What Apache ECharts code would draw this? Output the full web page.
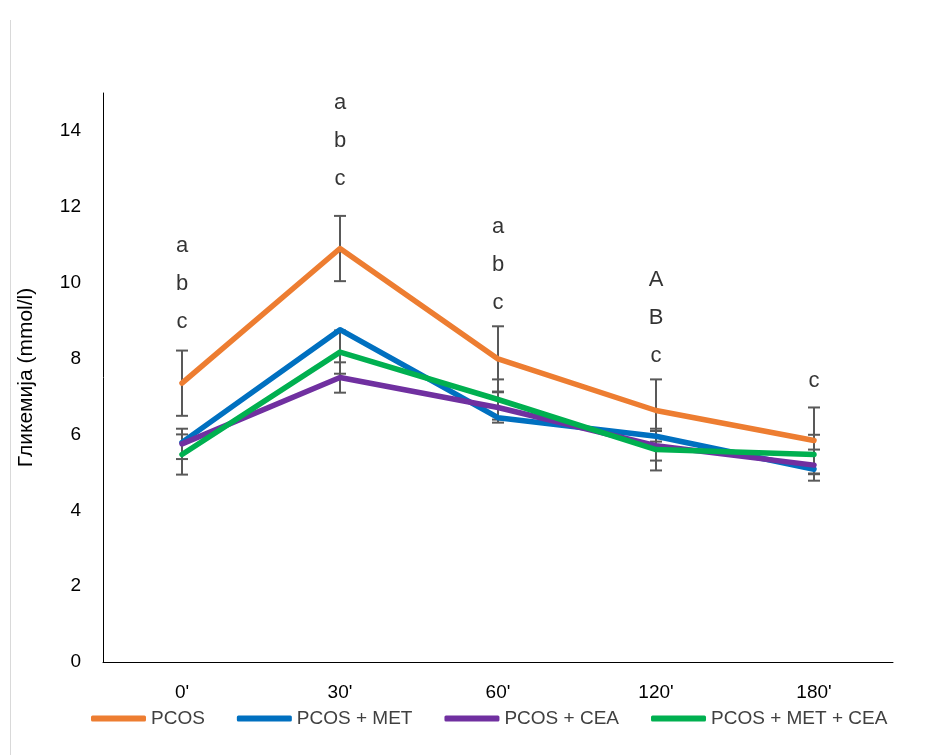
<!DOCTYPE html>
<html>
<head>
<meta charset="utf-8">
<script src="https://cdn.jsdelivr.net/npm/echarts@6/dist/echarts.min.js"></script>
<style>
html,body{margin:0;padding:0;background:#fff;}
#chart{width:941px;height:755px;}
</style>
</head>
<body>
<div id="chart"></div>
<script>
var categories = ["0'", "30'", "60'", "120'", "180'"];
var seriesNames = ["PCOS", "PCOS + MET", "PCOS + CEA", "PCOS + MET + CEA"];
var pcos = [7.35, 10.9, 7.99, 6.63, 5.84];
var pcosMet = [5.79, 8.76, 6.44, 5.95, 5.08];
var pcosCea = [5.75, 7.5, 6.71, 5.7, 5.19];
var pcosMetCea = [5.47, 8.17, 6.92, 5.6, 5.47];
var pcosErr = [0.86, 0.86, 0.86, 0.82, 0.87];
var pcosMetErr = [null, null, null, null, null];
var pcosCeaErr = [0.4, 0.4, 0.4, 0.39, 0.41];
var pcosMetCeaErr = [0.53, 0.57, 0.53, 0.55, 0.52];
var annotationText = ["a\nb\nc", "a\nb\nc", "a\nb\nc", "A\nB\nc", "c"];
var annotationY = [9.97, 13.74, 10.47, 9.08, 7.42];
var yTicks = [0, 2, 4, 6, 8, 10, 12, 14];

var colors = ['#ED7D31', '#0070C0', '#7030A0', '#00B050'];
var values = [pcos, pcosMet, pcosCea, pcosMetCea];
var errs = [pcosErr, pcosMetErr, pcosCeaErr, pcosMetCeaErr];
var font = "'Liberation Sans', 'Open Sans', sans-serif";

var series = [];
errs.forEach(function (e, si) {
  var data = [];
  e.forEach(function (v, i) {
    if (v != null) data.push([i, values[si][i] - v, values[si][i] + v]);
  });
  series.push({
    type: 'custom',
    name: 'err' + si,
    z: 1,
    silent: true,
    data: data,
    renderItem: function (params, api) {
      var x = api.value(0);
      var lo = api.coord([x, api.value(1)]);
      var hi = api.coord([x, api.value(2)]);
      var hw = 6;
      var st = {stroke: '#595959', lineWidth: 2};
      return {
        type: 'group',
        children: [
          {type: 'line', shape: {x1: lo[0], y1: lo[1], x2: hi[0], y2: hi[1]}, style: st},
          {type: 'line', shape: {x1: lo[0] - hw, y1: lo[1], x2: lo[0] + hw, y2: lo[1]}, style: st},
          {type: 'line', shape: {x1: hi[0] - hw, y1: hi[1], x2: hi[0] + hw, y2: hi[1]}, style: st}
        ]
      };
    }
  });
});
values.forEach(function (v, si) {
  series.push({
    type: 'line',
    name: seriesNames[si],
    data: v,
    z: 2 + si,
    symbol: 'none',
    color: colors[si],
    lineStyle: {width: 5.5, color: colors[si], cap: 'round', join: 'round'},
    itemStyle: {color: colors[si]}
  });
});
series.push({
  type: 'scatter',
  name: 'annot',
  symbolSize: 0,
  silent: true,
  z: 10,
  data: annotationY.map(function (y, i) { return [i, y, annotationText[i]]; }),
  label: {
    show: true,
    position: 'inside',
    formatter: function (p) { return p.value[2]; },
    color: '#000',
    fontSize: 22,
    lineHeight: 38,
    fontFamily: font
  }
});

var chart = echarts.init(document.getElementById('chart'));
chart.setOption({
  animation: false,
  backgroundColor: '#fff',
  graphic: [
    {type: 'line', shape: {x1: 10.5, y1: 20, x2: 10.5, y2: 755}, style: {stroke: '#d9d9d9', lineWidth: 1}}
  ],
  grid: {left: 103, right: 48, top: 93, bottom: 93, containLabel: false},
  legend: {
    data: seriesNames,
    bottom: 22,
    left: 86,
    icon: 'roundRect',
    itemWidth: 55,
    itemHeight: 6,
    itemGap: 32,
    textStyle: {fontSize: 19, color: '#404040', fontFamily: font}
  },
  xAxis: {
    type: 'category',
    data: categories,
    boundaryGap: true,
    axisLine: {lineStyle: {color: '#000', width: 1}},
    axisTick: {show: false},
    axisLabel: {fontSize: 19, color: '#000', margin: 21, fontFamily: font}
  },
  yAxis: {
    type: 'value',
    min: 0,
    max: 15,
    interval: 2,
    name: 'Гликемија (mmol/l)',
    nameLocation: 'middle',
    nameGap: 66,
    nameRotate: 90,
    nameTextStyle: {fontSize: 21, color: '#000', fontFamily: font},
    axisLine: {show: true, lineStyle: {color: '#000', width: 1}},
    axisTick: {show: false},
    splitLine: {show: false},
    axisLabel: {
      fontSize: 19, color: '#000', margin: 22, fontFamily: font,
      formatter: function (v) { return yTicks.indexOf(v) >= 0 ? String(v) : ''; }
    }
  },
  series: series
});
</script>
</body>
</html>
